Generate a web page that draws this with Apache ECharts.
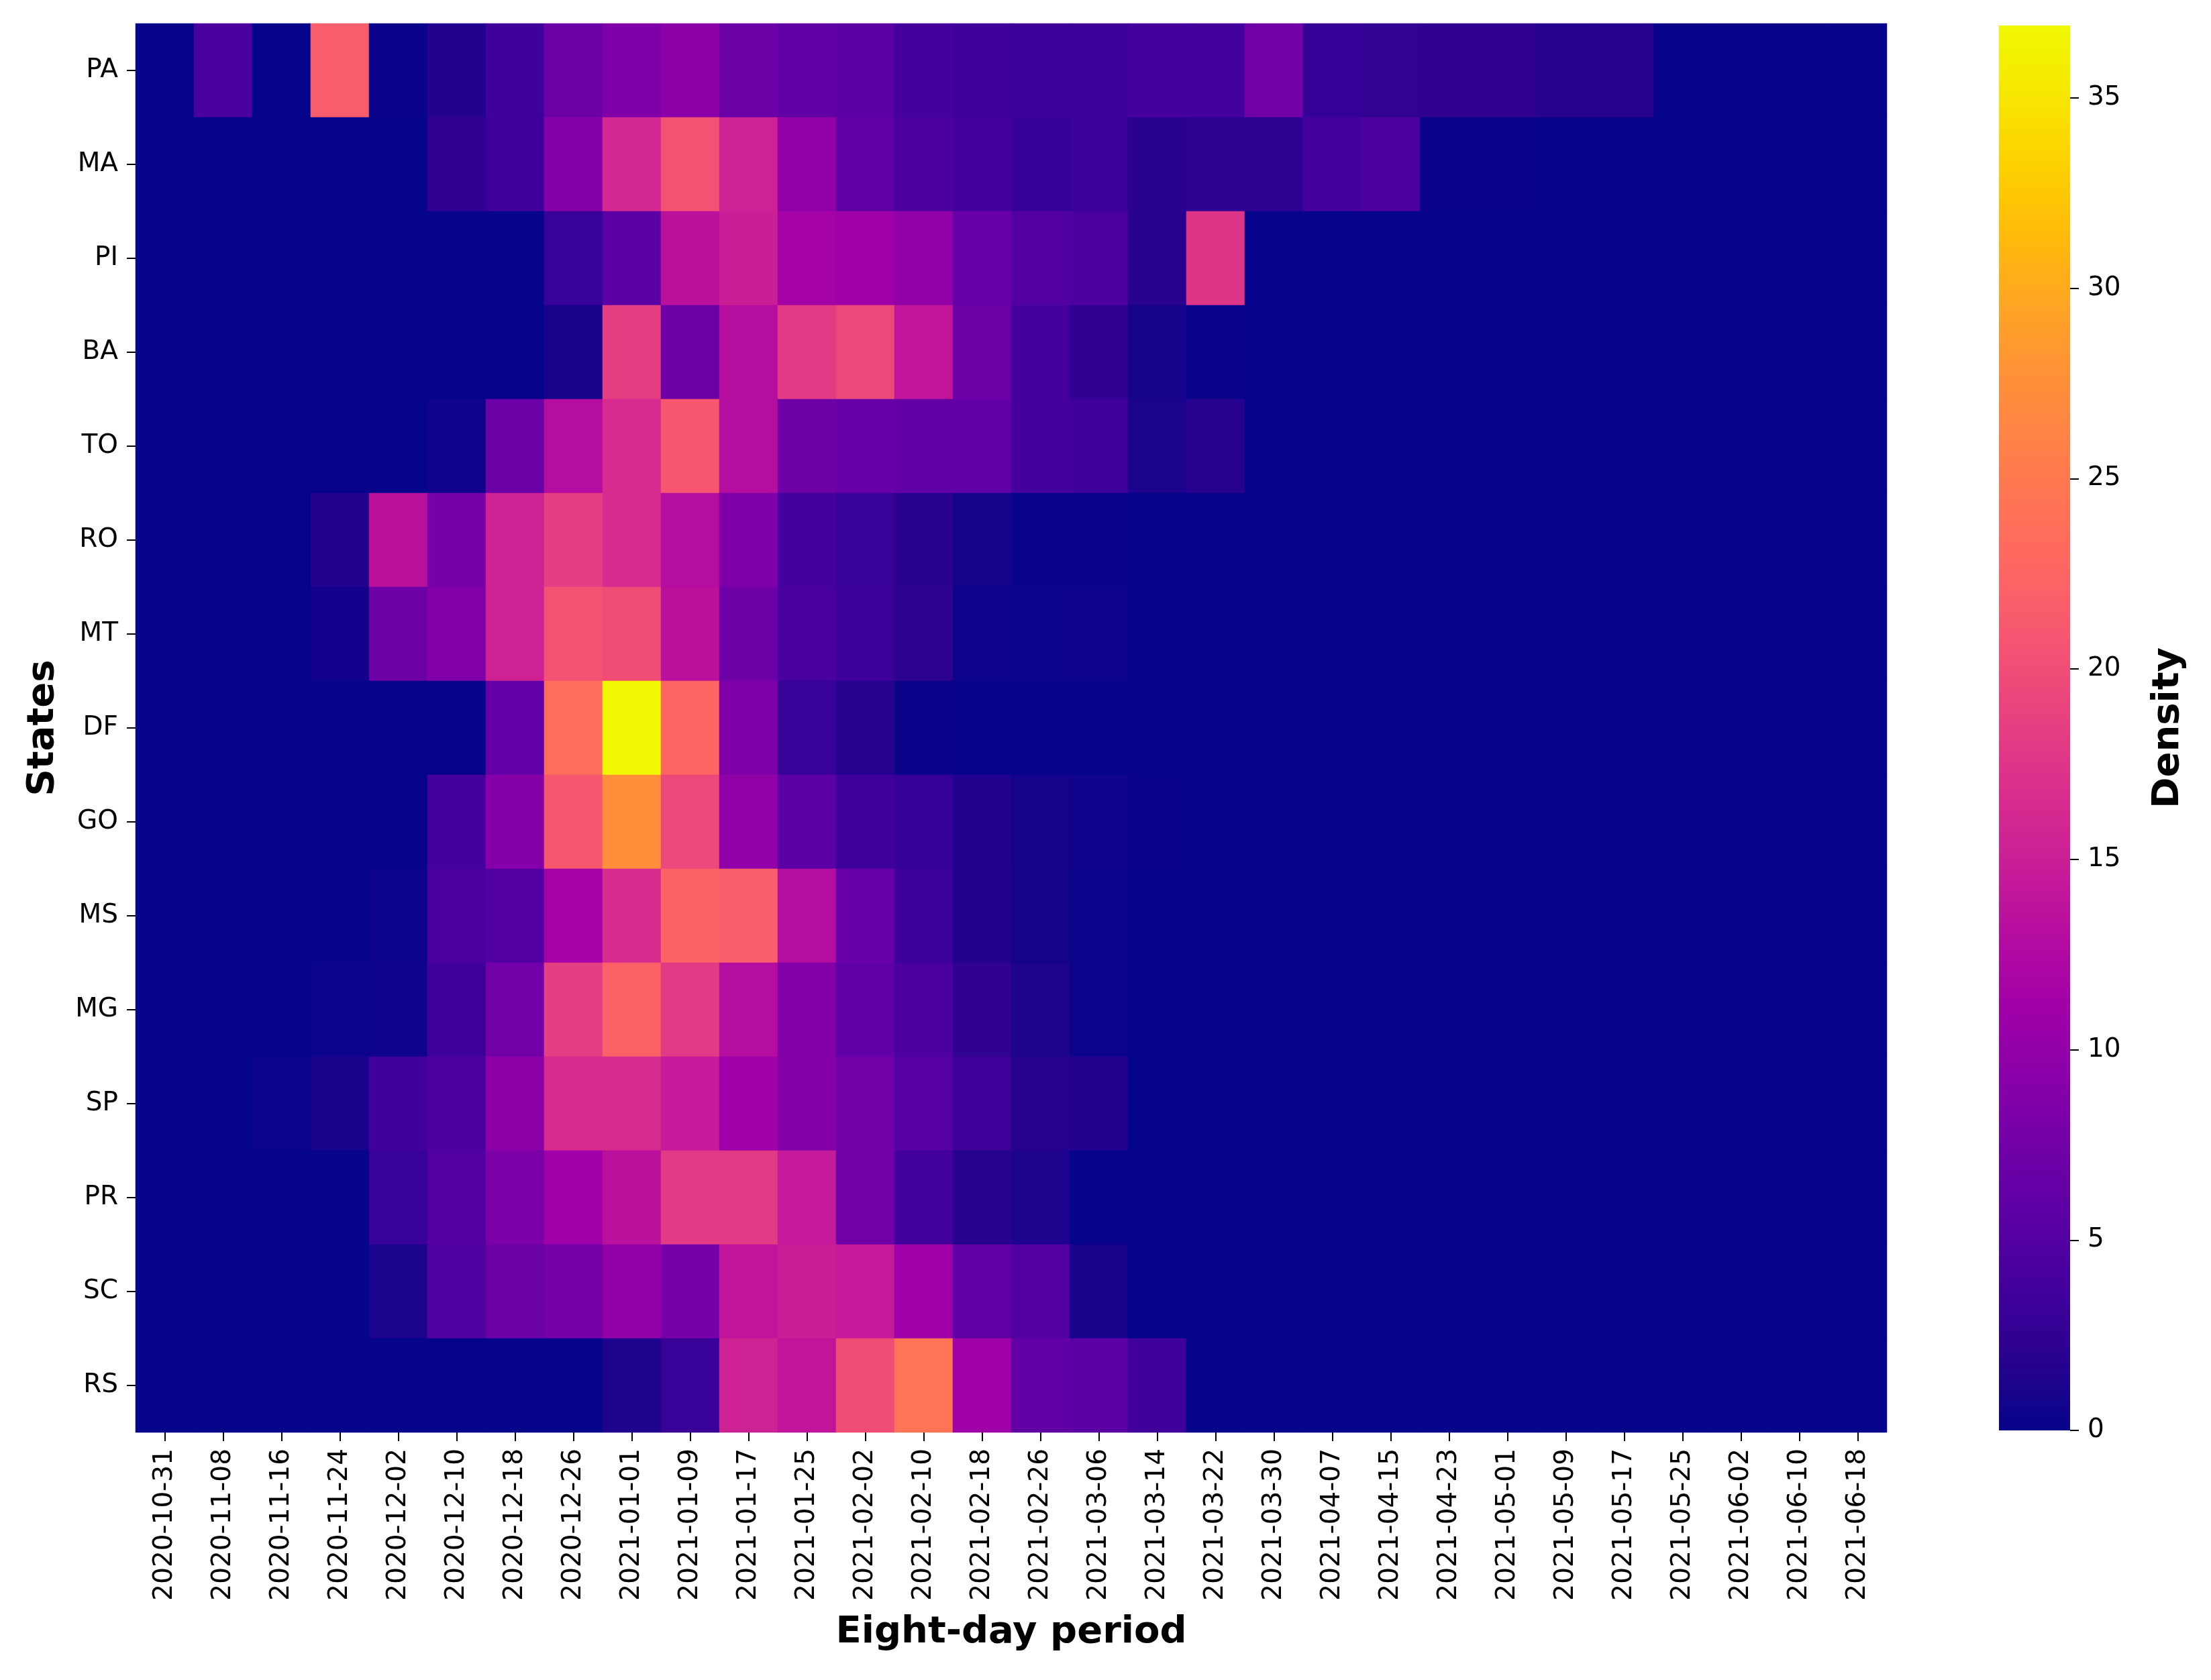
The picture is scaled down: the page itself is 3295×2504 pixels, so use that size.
<!DOCTYPE html>
<html>
<head>
<meta charset="utf-8">
<script src="https://cdn.jsdelivr.net/npm/echarts@6/dist/echarts.min.js"></script>
<style>
  html, body { margin: 0; padding: 0; background: #fff; }
  #chart { width: 3295px; height: 2504px; }
</style>
</head>
<body>
<div id="chart"></div>
<script>
// rows (top to bottom)
const states = ['PA', 'MA', 'PI', 'BA', 'TO', 'RO', 'MT', 'DF', 'GO', 'MS', 'MG', 'SP', 'PR', 'SC', 'RS']
// eight-day periods
const periods = [
  '2020-10-31', '2020-11-08', '2020-11-16', '2020-11-24', '2020-12-02', '2020-12-10',
  '2020-12-18', '2020-12-26', '2021-01-01', '2021-01-09', '2021-01-17', '2021-01-25',
  '2021-02-02', '2021-02-10', '2021-02-18', '2021-02-26', '2021-03-06', '2021-03-14',
  '2021-03-22', '2021-03-30', '2021-04-07', '2021-04-15', '2021-04-23', '2021-05-01',
  '2021-05-09', '2021-05-17', '2021-05-25', '2021-06-02', '2021-06-10', '2021-06-18'
]

// density per state, one value per period
const PA = [0, 4.2, 0, 21.5, 0.2, 1.5, 3.5, 7, 8.5, 9.5, 7, 6, 5.5, 4, 3.5, 3.2, 3.2, 4, 3.8, 7.5, 2.8, 2.6, 2.4, 2.4, 1.8, 1.8, 0.1, 0.1, 0.1, 0.1]
const MA = [0, 0, 0, 0, 0, 2.5, 3.5, 9, 16, 20.5, 15.5, 10, 6, 4.5, 3.8, 2.8, 3.2, 2, 2.3, 2.3, 4, 4.5, 0.2, 0.2, 0.1, 0.1, 0, 0, 0, 0]
const PI = [0, 0, 0, 0, 0, 0, 0, 3, 5.5, 13.5, 15, 11.5, 11, 10, 6.5, 5, 4.5, 1.8, 17.5, 0, 0, 0, 0, 0, 0, 0, 0, 0, 0, 0]
const BA = [0, 0, 0, 0, 0, 0, 0, 1, 18.5, 7, 13, 18, 19.5, 14, 7, 4, 2.5, 0.8, 0.2, 0, 0, 0, 0, 0, 0, 0, 0, 0, 0, 0]
const TO = [0, 0, 0, 0, 0, 0.6, 7, 13, 16.5, 21, 13, 7.2, 6.5, 6.2, 6, 4, 3.5, 1.2, 1.8, 0, 0, 0, 0, 0, 0, 0, 0, 0, 0, 0]
const RO = [0, 0, 0, 1.5, 13.5, 8, 15.5, 18.5, 16.5, 13, 8.5, 4, 3, 2, 0.8, 0.2, 0.2, 0, 0, 0, 0, 0, 0, 0, 0, 0, 0, 0, 0, 0]
const MT = [0, 0, 0, 0.7, 7, 8.8, 15.5, 20.5, 20, 13.5, 7.2, 4.2, 3.2, 2.3, 0.5, 0.3, 0.5, 0, 0, 0, 0, 0, 0, 0, 0, 0, 0, 0, 0, 0]
const DF = [0, 0, 0, 0, 0, 0, 6.3, 23.5, 36.9, 22.5, 8.5, 3, 1.8, 0.2, 0, 0, 0, 0, 0, 0, 0, 0, 0, 0, 0, 0, 0, 0, 0, 0]
const GO = [0, 0, 0, 0, 0, 4, 9, 21, 27.5, 19.5, 10, 5.5, 3.5, 2.8, 1.5, 0.8, 0.6, 0.2, 0, 0, 0, 0, 0, 0, 0, 0, 0, 0, 0, 0]
const MS = [0, 0, 0, 0, 0.4, 4.5, 5, 11.5, 16.5, 22, 21.5, 13, 6.8, 3.2, 1.4, 0.8, 0.3, 0, 0, 0, 0, 0, 0, 0, 0, 0, 0, 0, 0, 0]
const MG = [0, 0, 0, 0.3, 0.5, 3.5, 7.5, 18.5, 22, 18, 13, 8.8, 6, 4.5, 2.5, 1.3, 0.4, 0, 0, 0, 0, 0, 0, 0, 0, 0, 0, 0, 0, 0]
const SP = [0, 0, 0.3, 1, 3.6, 4.5, 9.5, 16.5, 16.5, 14.5, 11, 9, 7.5, 5.2, 3.3, 1.8, 1.6, 0, 0, 0, 0, 0, 0, 0, 0, 0, 0, 0, 0, 0]
const PR = [0, 0, 0, 0, 3, 5, 8.3, 11, 13.5, 18, 18, 14.5, 7.5, 3.7, 1.8, 1.3, 0, 0, 0, 0, 0, 0, 0, 0, 0, 0, 0, 0, 0, 0]
const SC = [0, 0, 0, 0, 1.2, 4.8, 7, 7.8, 10, 7.8, 14, 15, 14.5, 11, 6, 5, 1, 0, 0, 0, 0, 0, 0, 0, 0, 0, 0, 0, 0, 0]
const RS = [0, 0, 0, 0, 0, 0, 0, 0, 1.3, 3, 15.5, 14, 20, 24.5, 11, 6, 5.5, 3.5, 0, 0, 0, 0, 0, 0, 0, 0, 0, 0, 0, 0]

// colorbar ticks
const densityTicks = [0, 5, 10, 15, 20, 25, 30, 35]
const densityMax = 36.9

// plasma-like colour ramp
const plasma = [
  '#06048a', '#28028f', '#42009c', '#5a00a4', '#7000a8', '#8800a8', '#a000a8',
  '#b40ca0', '#c81c98', '#d82c8e', '#e63e82', '#f25074', '#fc6266', '#ff7058',
  '#ff8048', '#ff9038', '#ffa424', '#ffba0a', '#fdd000', '#f6e600', '#f0f800'
]

const rows = [PA, MA, PI, BA, TO, RO, MT, DF, GO, MS, MG, SP, PR, SC, RS]
let data = []
rows.forEach((row, i) => {
  row.forEach((v, j) => data.push([j, i, v]))
})

// colorbar: same ramp, bottom (0) to top (max)
const barGradient = new echarts.graphic.LinearGradient(0, 1, 0, 0,
  plasma.map((c, i) => ({ offset: i / (plasma.length - 1), color: c })))

const font = 'DejaVu Sans'
const tick = { show: true, length: 13, lineStyle: { color: '#000', width: 2 } }

let chart = echarts.init(document.getElementById('chart'))
let option = {
  backgroundColor: '#fff',
  animation: false,
  grid: [
    // whole-pixel cells (87 x 140) so neighbouring cells don't leave seams
    { left: 202, top: 35, width: 2610, height: 2100 },
    { left: 2979, top: 38, width: 106, height: 2094, show: true, borderWidth: 0, backgroundColor: barGradient }
  ],
  xAxis: [
    {
      type: 'category',
      gridIndex: 0,
      data: periods,
      axisLine: { show: false },
      axisTick: Object.assign({ alignWithLabel: true, interval: 0 }, tick),
      axisLabel: { rotate: 90, interval: 0, margin: 24, fontSize: 39, color: '#000', fontFamily: font },
      splitLine: { show: false },
      name: 'Eight-day period',
      nameLocation: 'middle',
      nameGap: 270,
      nameTextStyle: { fontSize: 56, fontWeight: 'bold', color: '#000', fontFamily: font }
    },
    {
      type: 'value', gridIndex: 1, min: 0, max: 1,
      axisLine: { show: false, onZero: false }, axisTick: { show: false },
      axisLabel: { show: false }, splitLine: { show: false }
    }
  ],
  yAxis: [
    {
      type: 'category',
      gridIndex: 0,
      data: states,
      inverse: true,
      axisLine: { show: false },
      axisTick: Object.assign({ alignWithLabel: true, interval: 0 }, tick),
      axisLabel: { interval: 0, margin: 26, fontSize: 39, color: '#000', fontFamily: font },
      splitLine: { show: false },
      name: 'States',
      nameLocation: 'middle',
      nameRotate: 90,
      nameGap: 110,
      nameTextStyle: { fontSize: 56, fontWeight: 'bold', color: '#000', fontFamily: font }
    },
    {
      type: 'value',
      gridIndex: 1,
      position: 'right',
      min: 0,
      max: densityMax,
      axisLine: { show: false, onZero: false },
      axisTick: Object.assign({ customValues: densityTicks }, tick),
      axisLabel: { customValues: densityTicks, margin: 26, fontSize: 39, color: '#000', fontFamily: font },
      splitLine: { show: false },
      name: 'Density',
      nameLocation: 'middle',
      nameRotate: 90,
      nameGap: 118,
      nameTextStyle: { fontSize: 56, fontWeight: 'bold', color: '#000', fontFamily: font }
    }
  ],
  visualMap: {
    type: 'continuous',
    show: false,
    seriesIndex: 0,
    min: 0,
    max: densityMax,
    inRange: { color: plasma }
  },
  series: [
    {
      type: 'heatmap',
      xAxisIndex: 0,
      yAxisIndex: 0,
      data: data,
      itemStyle: { borderWidth: 0 },
      emphasis: { disabled: true }
    }
  ]
}

chart.setOption(option)
</script>
</body>
</html>
